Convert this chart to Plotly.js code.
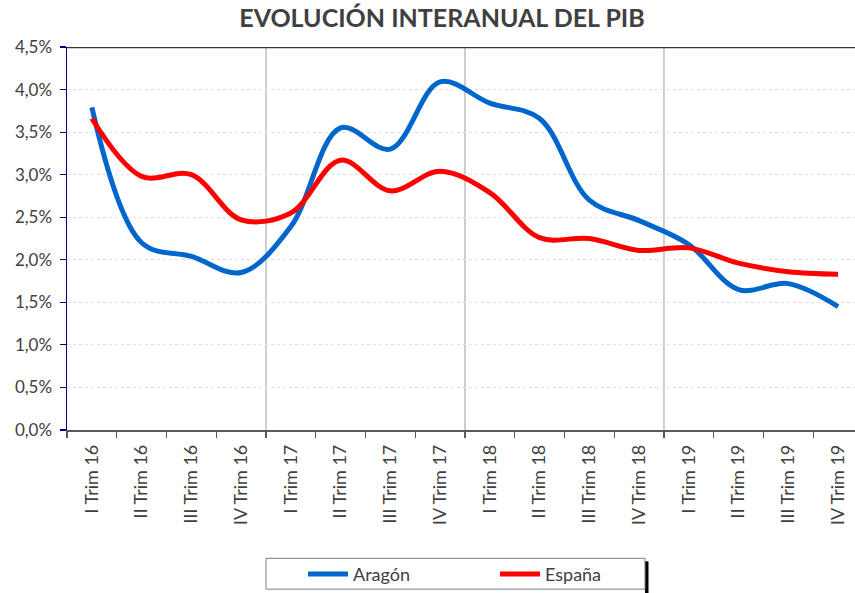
<!DOCTYPE html>
<html>
<head>
<meta charset="utf-8">
<script src="https://cdn.plot.ly/plotly-3.0.1.min.js"></script>
<style>html,body{margin:0;padding:0;background:#fff;}#chart{width:855px;height:593px;}</style>
</head>
<body>
<div id="chart"></div>
<script>
const categories = ["I Trim 16","II Trim 16","III Trim 16","IV Trim 16",
  "I Trim 17","II Trim 17","III Trim 17","IV Trim 17",
  "I Trim 18","II Trim 18","III Trim 18","IV Trim 18",
  "I Trim 19","II Trim 19","III Trim 19","IV Trim 19"];
const aragon = [3.79, 2.20, 2.04, 1.85, 2.39, 3.55, 3.30, 4.09, 3.84, 3.66, 2.70, 2.46, 2.18, 1.65, 1.72, 1.45];
const espana = [3.66, 2.98, 3.00, 2.47, 2.55, 3.17, 2.81, 3.04, 2.79, 2.26, 2.25, 2.11, 2.14, 1.96, 1.86, 1.83];
const seriesNames = ["Aragón", "España"];
const yearBoundaries = [3.5, 7.5, 11.5];

const FONT = "Lato, 'Open Sans', sans-serif";
const TXT = "#404040";

// pixel helpers for paper coordinates (plot area: x 67..855, y 47..432)
const L = 67, T = 47, W = 788, H = 385;
const px = v => (v - L) / W;
const py = v => (T + H - v) / H;

const traces = [
  {x: categories, y: aragon, name: seriesNames[0], type: "scatter", mode: "lines",
   line: {color: "#0066CC", width: 5, shape: "spline", smoothing: 1}},
  {x: categories, y: espana, name: seriesNames[1], type: "scatter", mode: "lines",
   line: {color: "#FF0000", width: 5, shape: "spline", smoothing: 1}}
];

const shapes = yearBoundaries.map(b => ({
  type: "line", xref: "x", yref: "paper", x0: b, x1: b, y0: 0, y1: 1,
  line: {color: "#bfbfbf", width: 1.5}, layer: "below"
}));
shapes.push({type: "line", xref: "paper", yref: "y", x0: 0, x1: 1, y0: 4.5, y1: 4.5,
  line: {color: "#333333", width: 2.5}});
// legend shadow and frame
shapes.push({type: "rect", xref: "paper", yref: "paper",
  x0: px(645), x1: px(648.5), y0: py(597), y1: py(564),
  fillcolor: "#000", line: {width: 0}});
shapes.push({type: "rect", xref: "paper", yref: "paper",
  x0: px(266), x1: px(645), y0: py(592), y1: py(561),
  fillcolor: "rgba(0,0,0,0)", line: {color: "#7f7f7f", width: 1}});

const layout = {
  width: 855, height: 593,
  margin: {l: L, r: 855 - L - W, t: T, b: 593 - T - H},
  paper_bgcolor: "#fff", plot_bgcolor: "#fff",
  separators: ",.",
  font: {family: FONT, color: TXT, size: 17},
  title: {text: "EVOLUCIÓN INTERANUAL DEL PIB", x: 442 / 855, xanchor: "center",
          y: 1 - 18 / 593, yanchor: "middle",
          font: {family: FONT, size: 25, color: TXT, weight: "bold"}},
  xaxis: {type: "category", range: [-0.5, 15.34], tickson: "boundaries",
          ticks: "outside", ticklen: 6, tickcolor: "#595959", tickwidth: 1.2,
          showline: true, linecolor: "#595959", linewidth: 1.5,
          showgrid: false, tickangle: -90, tickfont: {size: 18, color: TXT},
          ticklabelstandoff: 6, fixedrange: true},
  yaxis: {range: [0, 4.5], tick0: 0, dtick: 0.5, tickformat: ".1f", ticksuffix: "%",
          ticks: "outside", ticklen: 6, tickcolor: "#000080", tickwidth: 1.2,
          showline: true, linecolor: "#000080", linewidth: 1.5,
          gridcolor: "#e0e0e0", gridwidth: 1, griddash: "dot", zeroline: false,
          tickfont: {size: 17, color: TXT}, ticklabelstandoff: 4, fixedrange: true},
  showlegend: true,
  legend: {orientation: "h", x: px(303), xanchor: "left",
           y: py(577), yanchor: "middle",
           borderwidth: 0, bgcolor: "rgba(0,0,0,0)",
           font: {size: 18, color: TXT}, entrywidth: 137, entrywidthmode: "pixels",
           itemwidth: 40},
  shapes: shapes
};

Plotly.newPlot("chart", traces, layout, {staticPlot: true, displayModeBar: false});
</script>
</body>
</html>
